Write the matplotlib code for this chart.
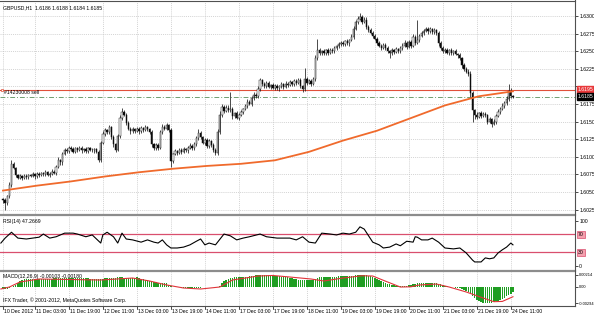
import numpy as np
import matplotlib.pyplot as plt
from matplotlib.lines import Line2D
from matplotlib.transforms import blended_transform_factory

W, H = 594, 316
plt.rcParams['font.family'] = ['Liberation Sans', 'DejaVu Sans']

chart_title = 'GBPUSD,H1  1.6186 1.6188 1.6184 1.6185'
order_text = '#14230008 sell'
rsi_title = 'RSI(14) 47.2669'
macd_title = 'MACD(12,26,9) -0.00103 -0.00180'
copyright_text = 'IFX Trader, \u00a9 2001-2012, MetaQuotes Software Corp.'

# hourly closes, pips above 1.6000 (10 Dec 12:00 ... 24 Dec 12:00)
first_open = 40
closes = [
    38, 35, 44, 60, 90, 84, 74, 70, 72, 70, 73, 71, 74, 73, 75, 72,
    76, 74, 77, 75, 78, 74, 76, 79, 77, 86, 95, 92, 104, 110, 108, 113,
    111, 107, 112, 110, 113, 109, 111, 108, 112, 110, 109, 111, 107, 96, 120, 132,
    138, 135, 142, 128, 118, 110, 130, 155, 164, 160, 148, 140, 136, 139, 137, 140,
    136, 141, 138, 142, 139, 135, 118, 112, 117, 113, 135, 143, 140, 145, 138, 94,
    104, 108, 106, 110, 107, 111, 109, 113, 116, 112, 118, 126, 134, 128, 120, 124,
    115, 122, 117, 110, 106, 135, 160, 171, 165, 170, 166, 168, 158, 162, 155, 160,
    164, 168, 172, 178, 175, 183, 188, 186, 196, 209, 203, 200, 205, 199, 202, 198,
    201, 197, 200, 203, 199, 204, 202, 206, 203, 208, 205, 209, 200, 196, 210, 205,
    208, 204, 210, 240, 252, 247, 250, 247, 251, 248, 252, 250, 254, 257, 260, 262,
    260, 264, 261, 266, 270, 282, 291, 296, 299, 292, 295, 285, 280, 276, 272, 268,
    262, 258, 255, 259, 254, 250, 247, 251, 249, 253, 250, 255, 258, 262, 256, 263,
    258, 270, 262, 266, 272, 276, 279, 282, 278, 281, 277, 280, 276, 262, 255, 250,
    252, 248, 251, 247, 250, 246, 244, 240, 230, 225, 221, 218, 190, 166, 160, 157,
    162, 158, 161, 159, 150, 153, 147, 150, 158, 164, 168, 172, 176, 182, 194, 186,
    185,
]
up_wick = [
    2, 3, 2, 4, 5, 3, 2, 2, 3, 2, 2, 3, 2, 2, 3, 2,
    2, 3, 2, 2, 3, 2, 2, 3, 2, 3, 4, 2, 3, 3, 2, 3,
    2, 3, 2, 2, 3, 2, 2, 3, 2, 2, 3, 2, 2, 3, 3, 4,
    3, 2, 3, 2, 3, 2, 3, 4, 6, 3, 2, 3, 2, 3, 2, 3,
    2, 3, 2, 3, 2, 2, 3, 2, 3, 2, 3, 4, 2, 3, 2, 3,
    2, 3, 2, 3, 2, 3, 2, 3, 3, 2, 3, 4, 6, 3, 2, 3,
    2, 3, 2, 2, 3, 4, 5, 4, 3, 4, 3, 24, 3, 2, 3, 2,
    3, 2, 3, 4, 2, 3, 4, 3, 4, 3, 2, 3, 2, 3, 2, 3,
    2, 3, 2, 3, 2, 3, 2, 3, 2, 3, 2, 3, 3, 2, 16, 3,
    2, 3, 4, 5, 16, 3, 2, 3, 2, 3, 2, 3, 3, 2, 3, 2,
    3, 2, 3, 2, 4, 4, 3, 4, 5, 3, 4, 3, 2, 3, 2, 3,
    2, 3, 2, 3, 2, 3, 2, 3, 2, 3, 2, 3, 3, 4, 2, 3,
    3, 4, 3, 29, 3, 3, 2, 3, 2, 3, 2, 3, 2, 3, 2, 3,
    2, 3, 2, 3, 2, 3, 2, 3, 2, 3, 2, 3, 4, 3, 2, 3,
    2, 3, 2, 3, 2, 3, 2, 3, 3, 4, 3, 4, 3, 4, 9, 3,
    2,
]
down_wick = [
    3, 11, 3, 2, 3, 2, 3, 2, 2, 3, 2, 2, 3, 2, 2, 3,
    2, 3, 2, 3, 2, 2, 3, 2, 2, 3, 2, 4, 3, 2, 3, 2,
    3, 2, 2, 3, 2, 3, 2, 2, 3, 2, 2, 3, 2, 4, 3, 2,
    3, 2, 2, 3, 4, 3, 2, 3, 3, 2, 3, 2, 3, 2, 3, 2,
    3, 2, 3, 2, 2, 3, 4, 3, 2, 3, 2, 3, 2, 2, 3, 9,
    3, 2, 3, 2, 3, 2, 2, 3, 2, 3, 2, 3, 2, 3, 2, 3,
    3, 2, 3, 3, 4, 3, 2, 3, 3, 2, 3, 2, 4, 3, 2, 3,
    2, 3, 2, 3, 2, 3, 2, 3, 2, 3, 3, 2, 3, 2, 3, 2,
    3, 2, 3, 2, 3, 2, 3, 2, 3, 2, 3, 2, 3, 4, 2, 3,
    2, 3, 2, 3, 2, 3, 2, 3, 2, 3, 2, 3, 2, 3, 2, 3,
    2, 3, 2, 3, 2, 3, 2, 3, 2, 3, 2, 3, 3, 2, 3, 2,
    3, 2, 3, 2, 3, 2, 7, 2, 3, 2, 3, 2, 3, 2, 3, 2,
    3, 2, 3, 2, 3, 2, 3, 2, 3, 2, 3, 2, 3, 4, 3, 2,
    3, 2, 3, 2, 3, 2, 3, 2, 4, 3, 2, 3, 5, 16, 6, 3,
    2, 3, 2, 3, 3, 2, 4, 2, 3, 2, 3, 2, 3, 2, 3, 2,
    1,
]

# moving average read at every 16th bar (pips above 1.6000)
ma_bars = [0, 16, 32, 48, 64, 80, 96, 112, 128, 144, 160, 176, 192, 208, 224, 240]
ma_pips = [52, 59, 65, 72, 78, 83, 87, 90, 95, 107, 123, 137, 155, 173, 186, 193]

order_price = 1.6195
bid_price = 1.6185

# RSI(14)
rsi_bars = [-1, 1, 4, 7, 11, 17, 19, 22, 25, 29, 33, 35, 39, 42, 44, 46, 47, 49, 52, 54,
            56, 58, 61, 65, 68, 71, 73, 75, 77, 79, 82, 85, 88, 91, 93, 95, 97, 100, 104, 107,
            110, 113, 116, 121, 124, 129, 135, 138, 141, 144, 147, 150, 154, 157, 160, 163, 166, 168, 170, 174,
            177, 179, 182, 185, 187, 190, 193, 194, 195, 197, 200, 202, 205, 208, 212, 215, 218, 221, 222, 225,
            227, 229, 231, 233, 235, 237, 239, 240]
rsi_vals = [51, 62, 75, 62, 60, 64, 71, 62, 65, 73, 73, 71, 65, 69, 60, 51, 69, 75, 65, 51,
            73, 60, 58, 53, 58, 53, 51, 58, 47, 40, 40, 42, 47, 55, 60, 47, 51, 47, 71, 67,
            58, 62, 65, 71, 65, 62, 62, 58, 65, 53, 51, 73, 71, 69, 73, 71, 75, 87, 82, 53,
            47, 40, 42, 49, 45, 55, 53, 65, 64, 58, 58, 62, 53, 40, 38, 40, 29, 13, 9, 9,
            18, 16, 18, 29, 36, 42, 51, 47]

# MACD main per bar (1e-5)
macd_main = [
    -40, -38, -33, -25, -10, 10, 35, 70, 110, 125, 135, 140, 142, 143, 145, 146,
    147, 147, 148, 148, 149, 150, 150, 150, 151, 151, 152, 153, 154, 155, 156, 156,
    157, 157, 157, 156, 155, 155, 154, 153, 152, 150, 148, 146, 144, 142, 141, 150,
    155, 160, 162, 160, 158, 165, 170, 172, 170, 166, 163, 160, 162, 164, 168, 170,
    160, 150, 141, 130, 120, 112, 100, 90, 80, 75, 72, 70, 68, 60, 40, 20,
    5, -5, -10, -12, -14, -15, -18, -20, -22, -22, -24, -22, -20, -15, -10, -5,
    0, 5, 3, 0, 2, 5, 15, 60, 100, 123, 140, 155, 165, 170, 175, 177,
    178, 180, 182, 185, 192, 198, 204, 208, 210, 211, 212, 212, 213, 212, 210, 207,
    203, 198, 192, 186, 180, 175, 170, 165, 160, 150, 140, 132, 128, 125, 122, 120,
    118, 120, 125, 140, 160, 170, 175, 178, 180, 178, 176, 178, 182, 185, 188, 190,
    192, 193, 194, 195, 196, 198, 205, 210, 214, 214, 212, 208, 200, 190, 175, 160,
    140, 120, 100, 85, 70, 55, 45, 35, 25, 18, 12, 8, 10, 15, 22, 30,
    40, 50, 55, 60, 65, 70, 72, 74, 75, 74, 72, 70, 65, 55, 45, 30,
    20, 10, 0, -5, -10, -15, -20, -25, -40, -60, -80, -100, -130, -170, -210, -240,
    -260, -275, -285, -290, -292, -294, -290, -280, -265, -250, -235, -215, -195, -175, -150, -125,
    -103,
]
signal_bars = [-1, 3, 8, 17, 46, 61, 69, 77, 85, 93, 102, 108, 120, 127, 135, 145, 151, 160,
               169, 174, 181, 187, 192, 196, 204, 210, 218, 226, 231, 235, 240]
signal_vals = [-40, -4, 87, 141, 123, 159, 105, 33, -22, -40, -4, 123, 195, 205, 177, 141, 105, 159,
               200, 195, 87, -4, 0, 33, 50, -4, -94, -203, -270, -265, -180]

time_bars = [0, 15, 31, 47, 63, 79, 95, 111, 127, 143, 159, 175, 191, 207, 223, 239]
time_labels = ['10 Dec 2012', '11 Dec 03:00', '11 Dec 19:00', '12 Dec 11:00', '13 Dec 03:00',
               '13 Dec 19:00', '14 Dec 11:00', '17 Dec 03:00', '17 Dec 19:00', '18 Dec 11:00',
               '19 Dec 03:00', '19 Dec 19:00', '20 Dec 11:00', '21 Dec 03:00', '21 Dec 19:00',
               '24 Dec 11:00']
price_ticks = [1.6025, 1.6050, 1.6075, 1.6100, 1.6125, 1.6150, 1.6175, 1.6200,
               1.6225, 1.6250, 1.6275, 1.6300]

GRID = '#c4c4c4'
FS = 3.7


def pips(p):
    return 1.6 + np.asarray(p, dtype=float) / 10000.0


fig = plt.figure(figsize=(W / 100, H / 100), dpi=100)
fig.patch.set_facecolor('white')


def px_axes(x0, y0, x1, y1):
    a = fig.add_axes([x0 / W, 1 - y1 / H, (x1 - x0) / W, (y1 - y0) / H])
    a.set_xlim(-1.41, 269.2)
    for s in a.spines.values():
        s.set_visible(False)
    a.tick_params(axis='x', bottom=False, labelbottom=False)
    a.yaxis.tick_right()
    a.tick_params(axis='y', length=2, width=0.5, pad=1, labelsize=FS, colors='black')
    for t in time_bars:
        a.axvline(t, color=GRID, lw=0.5, ls=(0, (1.5, 1.5)), zorder=0)
    return a


# ---- main price window
ax = px_axes(0, 1, 575, 214)
ax.set_ylim(1.60187, 1.63213)
ax.set_yticks(price_ticks)
# the 1.6200 label sits under the order price box, as in the terminal
ax.set_yticklabels(['' if abs(p - 1.62) < 1e-9 else f'{p:.4f}' for p in price_ticks])
for p in price_ticks:
    ax.axhline(p, color=GRID, lw=0.5, ls=(0, (1.5, 1.5)), zorder=0)

c = np.array(closes)
o = np.array([first_open] + closes[:-1])
hi = np.maximum(o, c) + np.array(up_wick)
lo = np.minimum(o, c) - np.array(down_wick)
x = np.arange(len(c))
ax.vlines(x, pips(lo), pips(hi), color='#1a1a1a', lw=0.55, zorder=3)
body_h = np.maximum(np.abs(c - o), 0.6) / 10000.0
fills = ['white' if cc > oo else 'black' for oo, cc in zip(o, c)]
ax.bar(x, body_h, bottom=pips(np.minimum(o, c)), width=0.62, color=fills,
       edgecolor='#1a1a1a', linewidth=0.35, zorder=4)

ax.plot(ma_bars, pips(ma_pips), color='#f06a2c', lw=1.3, zorder=5)

ax.axhline(order_price, color='#e0503a', lw=0.8, zorder=2)
ax.axhline(bid_price, color='#6f9f6f', lw=0.7, ls=(0, (5, 2, 1, 2)), zorder=2)
ax.plot([-0.7], [order_price], marker='s', ms=2.0, mfc='white', mec='#e0503a', mew=0.5,
        clip_on=False, zorder=6)

tr = blended_transform_factory(ax.transAxes, ax.transData)
ax.text(3 / 575, 1 - 4 / 213, chart_title, transform=ax.transAxes, fontsize=FS,
        va='top', ha='left')
ax.text(4 / 575, order_price - 0.00033, order_text, fontsize=FS, va='center',
        ha='left', transform=tr)

ax.text(1.005, order_price, f'{order_price:.4f}', transform=tr, fontsize=FS, color='white',
        va='center', ha='left', clip_on=False, zorder=7,
        bbox=dict(boxstyle='square,pad=0.2', fc='#e8383a', ec='#e8383a'))
ax.text(1.005, bid_price, f'{bid_price:.4f}', transform=tr, fontsize=FS, color='white',
        va='center', ha='left', clip_on=False, zorder=7,
        bbox=dict(boxstyle='square,pad=0.2', fc='black', ec='black'))

# ---- RSI window
ax_rsi = px_axes(0, 216, 575, 270)
ax_rsi.set_ylim(-8.9, 111.1)
ax_rsi.set_yticks([0, 100])
ax_rsi.set_yticklabels(['0', '100'])
tr_rsi = blended_transform_factory(ax_rsi.transAxes, ax_rsi.transData)
for lvl in (70, 30):
    ax_rsi.axhline(lvl, color='#d94f6e', lw=0.9, zorder=2)
    ax_rsi.text(1.005, lvl, str(lvl), transform=tr_rsi, fontsize=FS, color='black',
                va='center', ha='left', clip_on=False,
                bbox=dict(boxstyle='square,pad=0.2', fc='#f4a0ae', ec='#d94f6e', lw=0.5))
ax_rsi.plot(rsi_bars, rsi_vals, color='black', lw=0.8, zorder=3)
ax_rsi.text(3 / 575, 1 - 3 / 54, rsi_title, transform=ax_rsi.transAxes, fontsize=FS,
            va='top', ha='left')

# ---- MACD window
ax_m = px_axes(0, 272, 575, 306)
ax_m.set_ylim(-0.00348, 0.00268)
ax_m.set_yticks([-0.00294, 0.0, 0.00214])
ax_m.set_yticklabels(['-0.00294', '0.00', '0.00214'])
ax_m.tick_params(axis='y', labelsize=FS - 0.8, pad=0.5)
ax_m.bar(x, np.array(macd_main) / 1e5, width=0.68, color='#1f9e22', lw=0, zorder=3)
ax_m.plot(signal_bars, np.array(signal_vals) / 1e5, color='#e0343a', lw=0.8, zorder=4)
ax_m.text(3 / 575, 1 - 2 / 34, macd_title, transform=ax_m.transAxes, fontsize=FS,
          va='top', ha='left', zorder=6)
ax_m.text(3 / 575, 3 / 34, copyright_text, transform=ax_m.transAxes, fontsize=FS,
          va='bottom', ha='left', zorder=6)

# ---- time scale
for t, lab in zip(time_bars, time_labels):
    xp = (t + 1.41) / 270.61 * 575
    fig.add_artist(Line2D([xp / W, xp / W], [1 - 306 / H, 1 - 309 / H], color='black', lw=0.5))
    fig.text((xp + 1.5) / W, 1 - 311.5 / H, lab, fontsize=FS, va='center', ha='left')


# ---- window frames
def hline(y, x0, x1, color, lw):
    fig.add_artist(Line2D([x0 / W, x1 / W], [1 - y / H, 1 - y / H], color=color, lw=lw))


hline(0.8, 0, 575, '#505050', 0.8)
hline(215, 0, 575, '#8c8c8c', 1.6)
hline(271, 0, 575, '#8c8c8c', 1.6)
hline(306, 0, 575, '#505050', 0.8)
fig.add_artist(Line2D([575 / W, 575 / W], [1 - 306 / H, 1], color='#505050', lw=0.8))

fig.savefig('out.png', dpi=100, facecolor='white')
